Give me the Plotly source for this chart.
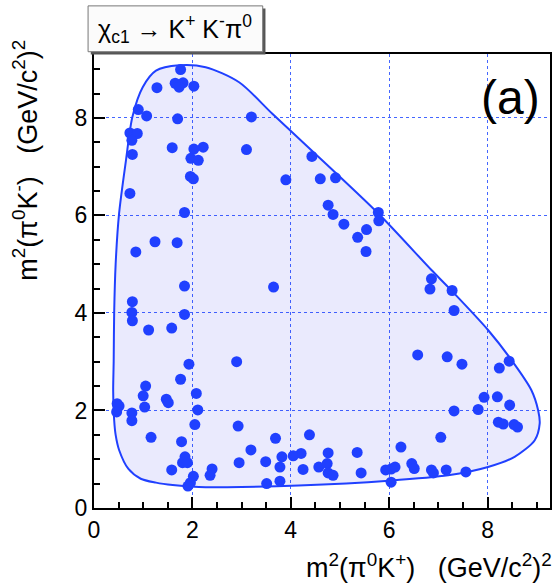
import plotly.graph_objects as go

# ---- data ----
x_vals = [1.76, 1.28, 1.65, 1.81, 1.73, 2.03, 0.90, 1.07, 1.70, 3.20,
          0.73, 0.88, 0.77, 0.78, 1.59, 2.03, 2.22, 1.97, 2.12, 3.10,
          1.96, 2.02, 3.90, 4.43, 4.60, 4.91, 0.73, 1.84, 0.85, 1.24,
          1.69, 1.84, 3.65, 4.76, 4.86, 5.08, 5.36, 5.54, 5.53, 5.78,
          5.79, 6.86, 6.83, 7.28, 7.32, 6.58, 7.18, 7.48, 8.44, 8.24,
          7.93, 8.20, 8.45, 7.81, 7.32, 8.22, 8.32, 8.54, 8.61, 7.05,
          4.38, 4.21, 4.25, 4.76, 4.57, 4.74, 4.76, 4.86, 5.35, 5.43,
          6.24, 5.93, 6.04, 6.12, 6.04, 6.46, 6.51, 6.86, 6.90, 7.16,
          7.56, 0.78, 0.77, 0.78, 1.11, 1.58, 1.84, 1.93, 2.90, 1.76,
          1.05, 1.00, 1.03, 1.47, 1.51, 0.47, 0.51, 0.46, 0.77, 0.77,
          2.08, 2.11, 2.05, 1.16, 1.78, 1.85, 1.80, 1.90, 1.58, 2.02,
          1.96, 1.91, 2.40, 2.36, 2.93, 2.95, 3.19, 3.49, 3.51, 3.69,
          3.82, 3.78, 3.78, 4.05]
y_vals = [8.99, 8.62, 8.71, 8.72, 8.63, 8.65, 8.17, 8.04, 7.98, 8.02,
          7.69, 7.68, 7.54, 7.25, 7.39, 7.36, 7.40, 7.17, 7.13, 7.35,
          6.80, 6.75, 6.73, 7.21, 6.75, 6.77, 6.45, 6.06, 5.25, 5.46,
          5.44, 4.55, 4.53, 6.21, 6.02, 5.82, 5.55, 5.71, 5.26, 6.06,
          5.89, 4.70, 4.49, 4.46, 4.05, 3.14, 3.10, 2.95, 3.01, 2.87,
          2.27, 2.28, 2.11, 2.02, 1.99, 1.76, 1.72, 1.71, 1.66, 1.45,
          1.50, 1.12, 0.79, 1.13, 0.84, 0.91, 0.72, 0.67, 1.14, 0.72,
          1.25, 0.78, 0.80, 0.84, 0.53, 0.91, 0.81, 0.78, 0.72, 0.78,
          0.74, 4.23, 4.01, 3.84, 3.65, 3.69, 3.97, 2.95, 3.00, 2.64,
          2.50, 2.30, 2.07, 2.23, 2.16, 2.14, 2.09, 1.97, 1.95, 1.79,
          2.35, 2.01, 1.71, 1.45, 1.36, 1.05, 0.93, 0.93, 0.78, 0.65,
          0.52, 0.45, 0.80, 0.67, 1.68, 0.93, 1.19, 0.95, 0.50, 1.43,
          1.05, 0.84, 0.55, 1.07]

# Dalitz boundary
bound_x = [0.40, 0.41, 0.44, 0.51, 0.65, 0.78, 0.99, 1.26, 1.73, 2.27,
           2.95, 3.62, 4.30, 5.78, 6.86, 7.20, 8.01, 8.49, 8.89, 9.03,
           9.06, 8.96, 8.55, 8.01, 7.20, 5.99, 4.16, 3.00, 2.13, 1.60,
           1.26, 0.95, 0.70, 0.51, 0.44, 0.41, 0.39, 0.40]
bound_y = [3.00, 4.00, 5.00, 6.04, 7.13, 8.02, 8.63, 8.97, 9.08, 9.04,
           8.73, 8.09, 7.45, 6.04, 4.88, 4.53, 3.65, 3.03, 2.42, 2.00,
           1.73, 1.39, 1.05, 0.84, 0.67, 0.56, 0.46, 0.43, 0.43, 0.47,
           0.52, 0.60, 0.80, 1.19, 1.50, 1.80, 2.40, 3.00]

x_ticks = [0, 2, 4, 6, 8]
y_ticks = [0, 2, 4, 6, 8]

BLUE = "#2040ff"
FONT = "Liberation Sans, Arial, sans-serif"

fig = go.Figure()
fig.add_trace(go.Scatter(
    x=bound_x, y=bound_y, mode="lines", fill="toself",
    fillcolor="rgba(20,20,230,0.09)",
    line=dict(color=BLUE, width=2, shape="spline", smoothing=0.8),
    hoverinfo="skip", showlegend=False))
fig.add_trace(go.Scatter(
    x=x_vals, y=y_vals, mode="markers",
    marker=dict(color=BLUE, size=11, line=dict(width=0)),
    showlegend=False))

axis_common = dict(
    showline=True, linecolor="black", linewidth=2, mirror=True,
    ticks="inside", ticklen=11, tickwidth=1.5, tickcolor="black",
    minor=dict(dtick=0.5, ticks="inside", ticklen=6, tickwidth=1.5,
               tickcolor="black", showgrid=False),
    showgrid=True, gridcolor="#4466ff", griddash="dot", gridwidth=1,
    zeroline=False, tickfont=dict(family=FONT, size=23, color="black"),
)
fig.update_xaxes(range=[0, 9.27], tickvals=x_ticks, **axis_common)
fig.update_yaxes(range=[0, 9.31], tickvals=y_ticks, **axis_common)

nb = "\u00a0"
fig.update_layout(
    width=557, height=588,
    margin=dict(l=94, r=5, t=54, b=80),
    plot_bgcolor="white", paper_bgcolor="white",
    font=dict(family=FONT, color="black"),
    shapes=[
        dict(type="rect", xref="paper", yref="paper",
             x0=-0.007, x1=0.376, y0=0.999, y1=1.100,
             fillcolor="#555555", line=dict(width=0), layer="above"),
        dict(type="rect", xref="paper", yref="paper",
             x0=-0.013, x1=0.370, y0=1.005, y1=1.106,
             fillcolor="#fbfbfb", line=dict(color="#777777", width=1),
             layer="above"),
    ],
    annotations=[
        dict(text="χ<sub>c1</sub> → K<sup>+</sup> K<sup>-</sup>π<sup>0</sup>",
             xref="paper", yref="paper", x=0.178, y=1.056,
             xanchor="center", yanchor="middle", showarrow=False,
             font=dict(family=FONT, size=25, color="black")),
        dict(text="(a)", xref="paper", yref="paper", x=0.913, y=0.904,
             xanchor="center", yanchor="middle", showarrow=False,
             font=dict(family=FONT, size=48, color="black")),
        dict(text=f"m<sup>2</sup>(π<sup>0</sup>K<sup>+</sup>){nb}{nb}{nb}(GeV/c<sup>2</sup>)<sup>2</sup>",
             xref="paper", yref="paper", x=1.008, y=-0.128,
             xanchor="right", yanchor="middle", showarrow=False,
             font=dict(family=FONT, size=27, color="black")),
        dict(text=f"m<sup>2</sup>(π<sup>0</sup>K<sup>-</sup>){nb}{nb}{nb}(GeV/c<sup>2</sup>)<sup>2</sup>",
             xref="paper", yref="paper", x=-0.150, y=1.036,
             xanchor="center", yanchor="top", textangle=-90, showarrow=False,
             font=dict(family=FONT, size=27, color="black")),
    ],
)

fig.write_html("out.html")
